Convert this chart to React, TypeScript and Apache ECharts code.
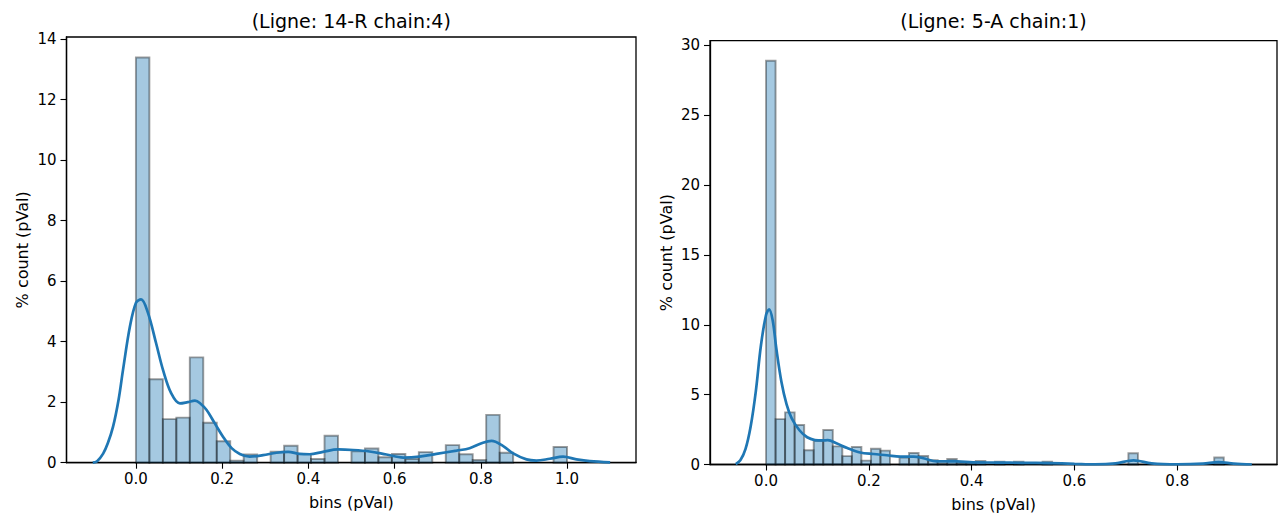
import React, { useEffect, useRef } from "react";
import * as echarts from "echarts";

// ---------- data ----------
const LEFT_TITLE = "(Ligne: 14-R chain:4)";
const RIGHT_TITLE = "(Ligne: 5-A chain:1)";
const X_NAME = "bins (pVal)";
const Y_NAME = "% count (pVal)";

const LEFT_X_TICKS = [0, 0.2, 0.4, 0.6, 0.8, 1.0];
const LEFT_Y_TICKS = [0, 2, 4, 6, 8, 10, 12, 14];
const RIGHT_X_TICKS = [0, 0.2, 0.4, 0.6, 0.8];
const RIGHT_Y_TICKS = [0, 5, 10, 15, 20, 25, 30];

const LEFT_BIN_START = 0;
const LEFT_BIN_WIDTH = 1 / 32;
const LEFT_HEIGHTS = [
  13.39, 2.76, 1.44, 1.49, 3.48, 1.32, 0.71, 0.07, 0.27, 0, 0.36, 0.56, 0.29,
  0.12, 0.89, 0, 0.38, 0.47, 0.18, 0.29, 0.12, 0.35, 0, 0.58, 0.28, 0.09, 1.58,
  0.33, 0, 0, 0, 0.52,
];

const RIGHT_BIN_START = 0;
const RIGHT_BIN_WIDTH = 0.8904 / 48;
const RIGHT_HEIGHTS = [
  28.9, 3.25, 3.73, 2.83, 1.02, 1.69, 2.47, 1.3, 0.6, 1.25, 0.28, 1.13, 0.99, 0,
  0.5, 0.82, 0.61, 0.3, 0.08, 0.39, 0.1, 0.1, 0.25, 0, 0.2, 0, 0.2, 0, 0, 0.2, 0,
  0, 0, 0, 0, 0, 0, 0, 0.8, 0, 0, 0, 0, 0, 0, 0, 0, 0.5,
];

const LEFT_KDE_X = [
  -0.1, -0.09, -0.076, -0.065, -0.053, -0.04, -0.03, -0.014, 0.0, 0.012, 0.028,
  0.047, 0.063, 0.082, 0.102, 0.12, 0.137, 0.15, 0.164, 0.183, 0.202, 0.222,
  0.241, 0.264, 0.295, 0.326, 0.353, 0.38, 0.403, 0.434, 0.469, 0.504, 0.542,
  0.581, 0.62, 0.658, 0.697, 0.744, 0.774, 0.805, 0.825, 0.852, 0.875, 0.906,
  0.929, 0.96, 0.991, 1.022, 1.053, 1.1,
];
const LEFT_KDE_Y = [
  0.0, 0.05, 0.3, 0.65, 1.19, 2.1, 3.06, 4.49, 5.28, 5.4, 4.95, 3.94, 3.06, 2.29,
  1.96, 2.0, 2.05, 1.95, 1.74, 1.3, 0.86, 0.48, 0.29, 0.2, 0.25, 0.33, 0.36, 0.29,
  0.28, 0.36, 0.44, 0.42, 0.37, 0.27, 0.17, 0.2, 0.29, 0.4, 0.48, 0.66, 0.72,
  0.55, 0.31, 0.11, 0.07, 0.13, 0.2, 0.11, 0.05, 0.01,
];

const RIGHT_KDE_X = [
  -0.059, -0.05, -0.04, -0.03, -0.02, -0.01, 0.0, 0.006, 0.013, 0.02, 0.03, 0.04,
  0.05, 0.065, 0.08, 0.095, 0.11, 0.12, 0.138, 0.158, 0.183, 0.209, 0.235, 0.261,
  0.287, 0.306, 0.332, 0.371, 0.403, 0.45, 0.5, 0.55, 0.6, 0.64, 0.68, 0.715,
  0.75, 0.8, 0.85, 0.88, 0.91, 0.945,
];
const RIGHT_KDE_Y = [
  0.03, 0.3, 1.1, 2.7, 5.2, 8.5, 10.7, 11.1, 10.3, 8.3, 5.9, 4.3, 3.3, 2.45, 1.95,
  1.75, 1.72, 1.74, 1.5, 1.18, 0.86, 0.75, 0.66, 0.56, 0.56, 0.45, 0.22, 0.22,
  0.15, 0.14, 0.12, 0.1, 0.05, 0.01, 0.08, 0.3, 0.08, 0.01, 0.06, 0.17, 0.06, 0.0,
];

// ---------- styling ----------
const FONT = "DejaVu Sans";
const BAR_FILL = "rgba(31,119,180,0.4)";
const BAR_EDGE = "rgba(0,0,0,0.38)";
const LINE_COLOR = "#1f77b4";

function bins(start: number, width: number, heights: number[]) {
  const out: number[][] = [];
  heights.forEach((h, i) => {
    if (h > 0) out.push([start + i * width, start + (i + 1) * width, h]);
  });
  return out;
}

function pairs(xs: number[], ys: number[]) {
  return xs.map((x, i) => [x, ys[i]]);
}

const renderBar = (params: any, api: any) => {
  const p0 = api.coord([api.value(0), api.value(2)]);
  const p1 = api.coord([api.value(1), 0]);
  return {
    type: "rect",
    shape: { x: p0[0], y: p0[1], width: p1[0] - p0[0], height: p1[1] - p0[1] },
    style: { fill: BAR_FILL, stroke: BAR_EDGE, lineWidth: 1.9 },
  };
};

function xAxis(gridIndex: number, min: number, max: number, ticks: number[]) {
  return {
    type: "value",
    gridIndex,
    min,
    max,
    name: X_NAME,
    nameLocation: "middle",
    nameGap: 32,
    nameTextStyle: { fontFamily: FONT, fontSize: 16, color: "#000" },
    axisLine: { show: true, onZero: false, lineStyle: { color: "#000", width: 1.3 } },
    axisTick: { show: true, customValues: ticks, length: 6, lineStyle: { color: "#000", width: 1.1 } },
    axisLabel: {
      show: true,
      customValues: ticks,
      formatter: (v: number) => v.toFixed(1),
      fontFamily: FONT,
      fontSize: 15,
      color: "#000",
      margin: 9,
    },
    splitLine: { show: false },
  };
}

function yAxis(gridIndex: number, min: number, max: number, ticks: number[]) {
  return {
    type: "value",
    gridIndex,
    min,
    max,
    name: Y_NAME,
    nameLocation: "middle",
    nameRotate: 90,
    nameGap: 36,
    nameTextStyle: { fontFamily: FONT, fontSize: 16, color: "#000" },
    axisLine: { show: true, onZero: false, lineStyle: { color: "#000", width: 1.3 } },
    axisTick: { show: true, customValues: ticks, length: 6, lineStyle: { color: "#000", width: 1.1 } },
    axisLabel: {
      show: true,
      customValues: ticks,
      formatter: (v: number) => String(v),
      fontFamily: FONT,
      fontSize: 15,
      color: "#000",
      margin: 10,
    },
    splitLine: { show: false },
  };
}

export default function App() {
  const ref = useRef<HTMLDivElement>(null);

  useEffect(() => {
    if (!ref.current) return;
    const chart = echarts.init(ref.current, undefined, { renderer: "svg" });
    const W = 1281;
    const g0 = { left: 66.5, right: W - 636, top: 37, bottom: 519 - 462.7 };
    const g1 = { left: 710, right: W - 1277, top: 40.7, bottom: 519 - 464.5 };
    chart.setOption({
      animation: false,
      backgroundColor: "#fff",
      textStyle: { fontFamily: FONT },
      grid: [
        { ...g0, show: true, borderColor: "#000", borderWidth: 1.3, backgroundColor: "transparent" },
        { ...g1, show: true, borderColor: "#000", borderWidth: 1.3, backgroundColor: "transparent" },
      ],
      xAxis: [
        xAxis(0, -0.161, 1.16, LEFT_X_TICKS),
        xAxis(1, -0.109, 0.994, RIGHT_X_TICKS),
      ],
      yAxis: [
        yAxis(0, 0, 14.07, LEFT_Y_TICKS),
        yAxis(1, 0, 30.33, RIGHT_Y_TICKS),
      ],
      graphic: [
        {
          type: "text",
          x: (66.5 + 636) / 2,
          y: 21,
          style: { text: LEFT_TITLE, align: "center", verticalAlign: "middle", fontFamily: FONT, fontSize: 19, fill: "#000" },
        },
        {
          type: "text",
          x: (710 + 1277) / 2,
          y: 21,
          style: { text: RIGHT_TITLE, align: "center", verticalAlign: "middle", fontFamily: FONT, fontSize: 19, fill: "#000" },
        },
      ],
      series: [
        {
          type: "custom",
          xAxisIndex: 0,
          yAxisIndex: 0,
          renderItem: renderBar,
          encode: { x: [0, 1], y: 2 },
          data: bins(LEFT_BIN_START, LEFT_BIN_WIDTH, LEFT_HEIGHTS),
          z: 2,
        },
        {
          type: "line",
          xAxisIndex: 0,
          yAxisIndex: 0,
          data: pairs(LEFT_KDE_X, LEFT_KDE_Y),
          showSymbol: false,
          smooth: 0.35,
          lineStyle: { color: LINE_COLOR, width: 2.7 },
          itemStyle: { color: LINE_COLOR },
          z: 3,
        },
        {
          type: "custom",
          xAxisIndex: 1,
          yAxisIndex: 1,
          renderItem: renderBar,
          encode: { x: [0, 1], y: 2 },
          data: bins(RIGHT_BIN_START, RIGHT_BIN_WIDTH, RIGHT_HEIGHTS),
          z: 2,
        },
        {
          type: "line",
          xAxisIndex: 1,
          yAxisIndex: 1,
          data: pairs(RIGHT_KDE_X, RIGHT_KDE_Y),
          showSymbol: false,
          smooth: 0.35,
          lineStyle: { color: LINE_COLOR, width: 2.7 },
          itemStyle: { color: LINE_COLOR },
          z: 3,
        },
      ],
    });
    return () => chart.dispose();
  }, []);

  return (
    <div
      ref={ref}
      style={{ position: "absolute", left: 0, top: 0, width: 1281, height: 519, background: "#fff" }}
    />
  );
}
